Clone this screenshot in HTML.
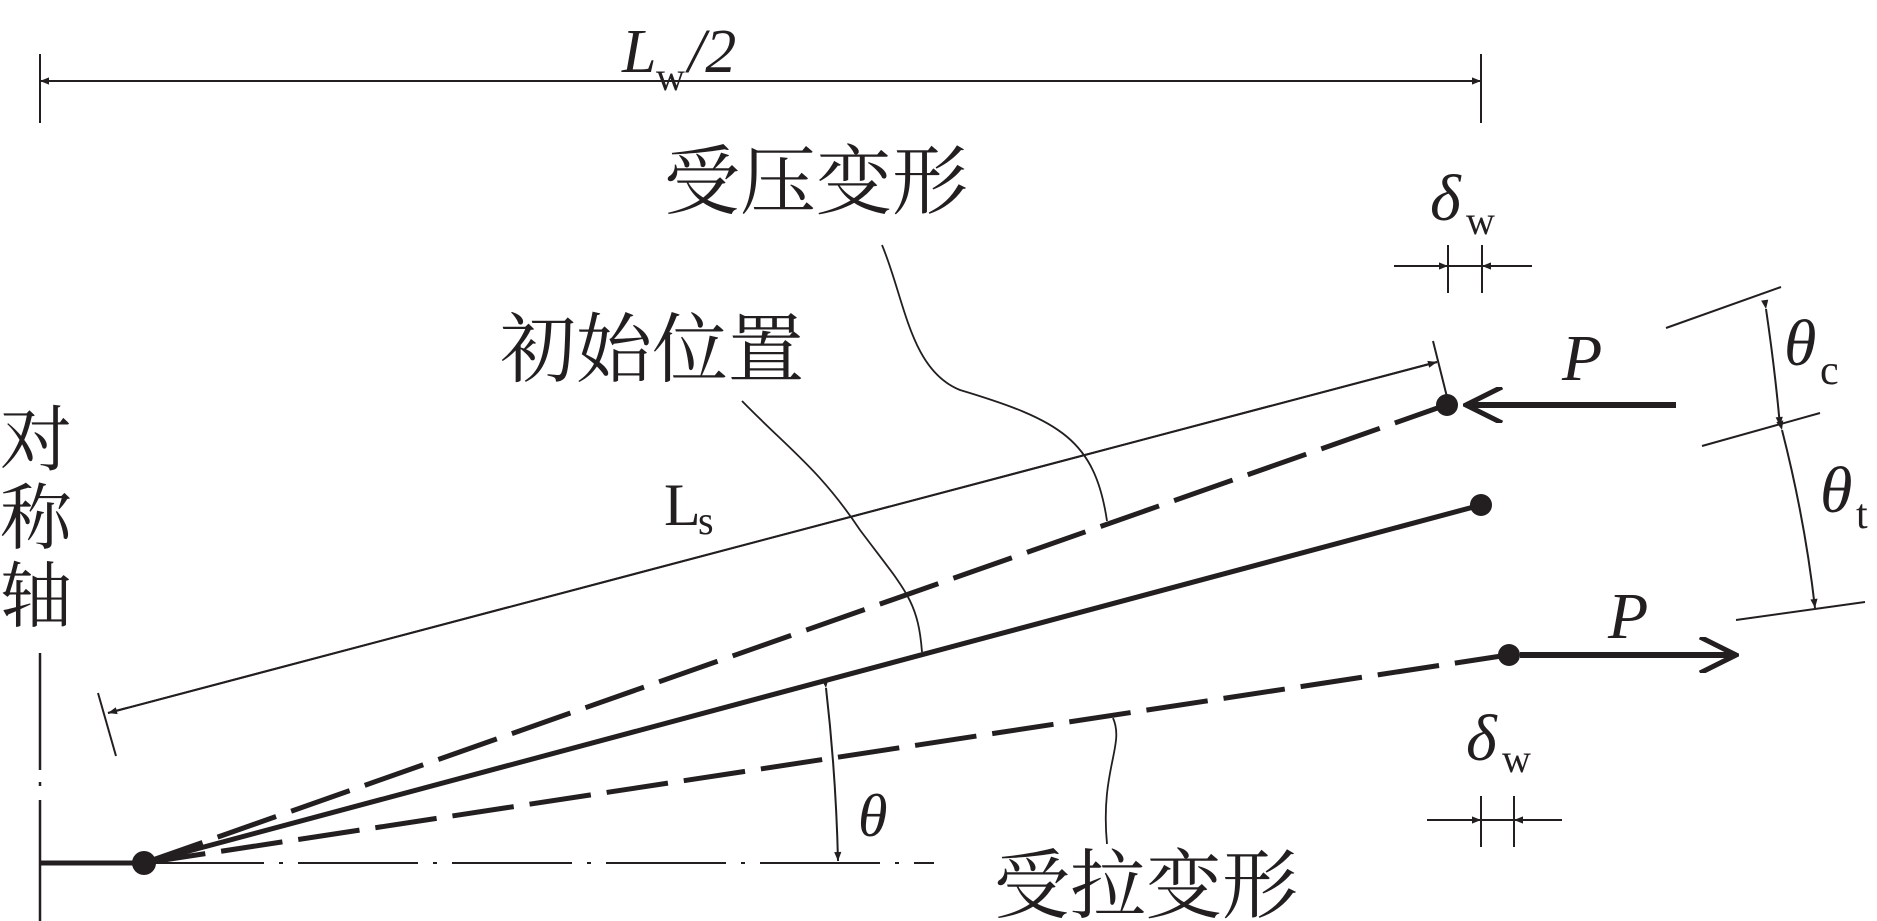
<!DOCTYPE html>
<html><head><meta charset="utf-8"><style>
html,body{margin:0;padding:0;background:#fff;}
svg{display:block;}
.cn{font-family:"Liberation Serif","Noto Serif CJK SC","Noto Sans CJK SC",serif;fill:#231f20;}
.it{font-family:"Liberation Serif",serif;font-style:italic;fill:#231f20;}
.rm{font-family:"Liberation Serif",serif;fill:#231f20;}
</style></head><body>
<svg width="1877" height="921" viewBox="0 0 1877 921" xmlns="http://www.w3.org/2000/svg">
<defs>
<marker id="a" viewBox="0 0 10 10" refX="10" refY="5" markerWidth="22" markerHeight="9" markerUnits="userSpaceOnUse" orient="auto"><path d="M0,1 L10,5 L0,9 Z" fill="#231f20"/></marker>
<marker id="big" viewBox="0 0 10 10" refX="10" refY="5" markerWidth="42" markerHeight="36" markerUnits="userSpaceOnUse" orient="auto"><path d="M0,0 L10,5 L0,10" fill="none" stroke="#231f20" stroke-width="1.4"/></marker>
</defs>
<g stroke="#231f20" fill="none">
<line x1="40" y1="54" x2="40" y2="123" stroke-width="2"/>
<line x1="1481" y1="54" x2="1481" y2="123" stroke-width="2"/>
<line x1="40" y1="81" x2="1481" y2="81" stroke-width="2" marker-end="url(#a)"/>
<line x1="1481" y1="81" x2="40" y2="81" stroke-width="2" marker-end="url(#a)"/>
<line x1="40" y1="653" x2="40" y2="770" stroke-width="2.5"/>
<line x1="40" y1="782" x2="40" y2="786" stroke-width="2.5"/>
<line x1="40" y1="800" x2="40" y2="921" stroke-width="2.5"/>
<line x1="40" y1="863" x2="144" y2="863" stroke-width="5"/>
<line x1="144" y1="863" x2="934" y2="863" stroke-width="2" stroke-dasharray="120,15,4,15"/>
<line x1="144" y1="863" x2="1481" y2="505" stroke-width="5"/>
<line x1="144" y1="863" x2="1446" y2="405" stroke-width="5" stroke-dasharray="62,16"/>
<line x1="144" y1="863" x2="1508" y2="655" stroke-width="5" stroke-dasharray="62,16"/>
<line x1="98" y1="693" x2="116" y2="756" stroke-width="2"/>
<line x1="1433" y1="341" x2="1448" y2="401" stroke-width="2"/>
<line x1="108" y1="713" x2="1437" y2="362" stroke-width="2" marker-end="url(#a)"/>
<line x1="1437" y1="362" x2="108" y2="713" stroke-width="2" marker-end="url(#a)"/>
<path d="M826,688 Q836,775 838,861" stroke-width="2" marker-start="url(#a)" marker-end="url(#a)"/>
<path d="M742,401 C790,450 820,470 860,530 C905,590 918,600 922,652" stroke-width="1.8"/>
<path d="M882,245 C905,300 910,370 960,390 C1060,420 1095,440 1107,521" stroke-width="1.8"/>
<path d="M1113,718 C1125,745 1100,770 1107,844" stroke-width="1.8"/>
<line x1="1448" y1="245" x2="1448" y2="293" stroke-width="2"/>
<line x1="1482" y1="245" x2="1482" y2="293" stroke-width="2"/>
<line x1="1394" y1="266" x2="1448" y2="266" stroke-width="2" marker-end="url(#a)"/>
<line x1="1532" y1="266" x2="1482" y2="266" stroke-width="2" marker-end="url(#a)"/>
<line x1="1448" y1="266" x2="1482" y2="266" stroke-width="2"/>
<line x1="1481" y1="796" x2="1481" y2="847" stroke-width="2"/>
<line x1="1514" y1="796" x2="1514" y2="847" stroke-width="2"/>
<line x1="1427" y1="820" x2="1481" y2="820" stroke-width="2" marker-end="url(#a)"/>
<line x1="1562" y1="820" x2="1514" y2="820" stroke-width="2" marker-end="url(#a)"/>
<line x1="1481" y1="820" x2="1514" y2="820" stroke-width="2"/>
<line x1="1676" y1="405" x2="1466" y2="405" stroke-width="6" marker-end="url(#big)"/>
<line x1="1520" y1="655" x2="1736" y2="655" stroke-width="6" marker-end="url(#big)"/>
<line x1="1666" y1="328" x2="1781" y2="287" stroke-width="2"/>
<line x1="1702" y1="446" x2="1820" y2="413" stroke-width="2"/>
<line x1="1736" y1="620" x2="1865" y2="602" stroke-width="2"/>
<path d="M1766,309 Q1775,370 1780,426" stroke-width="2" marker-start="url(#a)" marker-end="url(#a)"/>
<path d="M1782,430 Q1805,520 1815,608" stroke-width="2" marker-start="url(#a)" marker-end="url(#a)"/>
</g>
<g fill="#231f20">
<circle cx="144" cy="863" r="12"/>
<circle cx="1481" cy="505" r="11"/>
<circle cx="1447" cy="405" r="11"/>
<circle cx="1509" cy="655" r="11"/>
</g>
<text class="it" x="622" y="72" font-size="62">L</text><text class="rm" x="656" y="90" font-size="40">w</text><text class="it" x="688" y="72" font-size="62">/2</text>
<text class="cn" x="664" y="208" font-size="76">受压变形</text>
<text class="cn" x="500" y="376" font-size="76">初始位置</text>
<text class="cn" x="994" y="912" font-size="76">受拉变形</text>
<text class="cn" x="0" y="465" font-size="72">对</text>
<text class="cn" x="0" y="543" font-size="72">称</text>
<text class="cn" x="0" y="621" font-size="72">轴</text>
<text class="rm" x="664" y="525" font-size="60">L</text><text class="rm" x="698" y="534" font-size="40">s</text>
<text class="it" x="858" y="836" font-size="60">θ</text>
<text class="it" x="1430" y="220" font-size="66">δ</text><text class="rm" x="1466" y="234" font-size="40">w</text>
<text class="it" x="1466" y="760" font-size="66">δ</text><text class="rm" x="1502" y="772" font-size="40">w</text>
<text class="it" x="1562" y="380" font-size="66">P</text>
<text class="it" x="1608" y="638" font-size="66">P</text>
<text class="it" x="1784" y="365" font-size="66">θ</text><text class="rm" x="1820" y="384" font-size="42">c</text>
<text class="it" x="1820" y="512" font-size="66">θ</text><text class="rm" x="1856" y="528" font-size="42">t</text>
</svg>
</body></html>
